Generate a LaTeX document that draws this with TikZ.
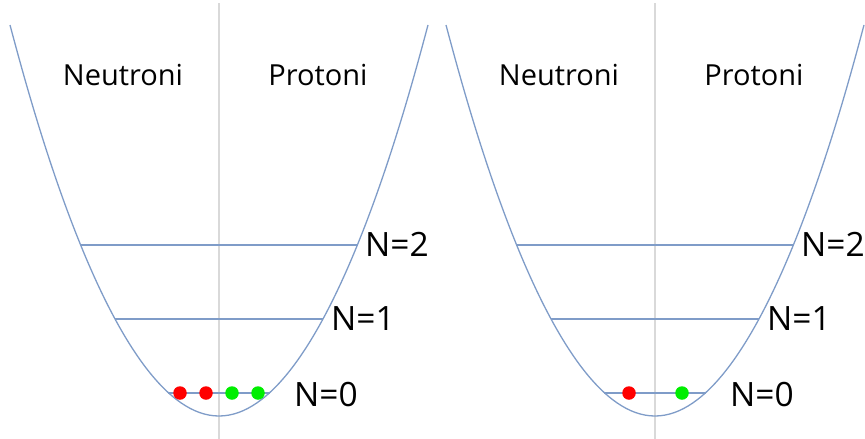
\documentclass[tikz,border=0pt]{standalone}
\usepackage{fontspec}
\setmainfont{Open Sans}
\begin{document}
\begin{tikzpicture}[x=1pt,y=-1pt,
  curve/.style={draw=curveblue,line width=1.3pt},
  level/.style={draw=curveblue,line width=1.3pt},
  axis/.style={draw=axisgrey,line width=1.2pt},
  head/.style={font=\fontsize{29}{32}\selectfont,anchor=base,inner sep=0pt},
  lab/.style={font=\fontsize{33.5}{36}\selectfont,anchor=base west,inner sep=0pt},
  neutron/.style={circle,fill=red,minimum size=13.5pt,inner sep=0pt},
  proton/.style={circle,fill=green,minimum size=13.5pt,inner sep=0pt}]
\definecolor{curveblue}{HTML}{7F9CC8}
\definecolor{axisgrey}{HTML}{D9D9D9}
\definecolor{red}{HTML}{FF0000}
\definecolor{green}{HTML}{00EE00}
\useasboundingbox (0,0) rectangle (865,439);
\begin{scope}
\clip (0,0) rectangle (865,439);
% ---------- left well ----------
\draw[axis] (219,3) -- (219,439);
\draw[curve] (10,25) parabola bend (219,416) (428,25);
\coordinate (L2a) at (81,245);  \coordinate (L2b) at (357,245);
\coordinate (L1a) at (115,319); \coordinate (L1b) at (323,319);
\coordinate (L0a) at (168,393); \coordinate (L0b) at (270,393);
\draw[level] (L2a) -- (L2b);
\draw[level] (L1a) -- (L1b);
\draw[level] (L0a) -- (L0b);
\node[head] (ln) at (123,85) {Neutroni};
\node[head] (lp) at (318,85) {Protoni};
\node[lab] (l2) at (365,256) {N=2};
\node[lab] (l1) at (331,330) {N=1};
\node[lab] (l0) at (294,406) {N=0};
\node[neutron] (ln1) at (180,393) {};
\node[neutron] (ln2) at (206,393) {};
\node[proton] (lp1) at (232,393) {};
\node[proton] (lp2) at (258,393) {};
% ---------- right well ----------
\draw[axis] (655,3) -- (655,439);
\draw[curve] (446,25) parabola bend (655,416) (864,25);
\coordinate (R2a) at (517,245); \coordinate (R2b) at (793,245);
\coordinate (R1a) at (551,319); \coordinate (R1b) at (759,319);
\coordinate (R0a) at (604,393); \coordinate (R0b) at (706,393);
\draw[level] (R2a) -- (R2b);
\draw[level] (R1a) -- (R1b);
\draw[level] (R0a) -- (R0b);
\node[head] (rn) at (559,85) {Neutroni};
\node[head] (rp) at (754,85) {Protoni};
\node[lab] (r2) at (801,256) {N=2};
\node[lab] (r1) at (767,330) {N=1};
\node[lab] (r0) at (730,406) {N=0};
\node[neutron] (rn1) at (629,393) {};
\node[proton] (rp1) at (682,393) {};
\end{scope}
\end{tikzpicture}
\end{document}
